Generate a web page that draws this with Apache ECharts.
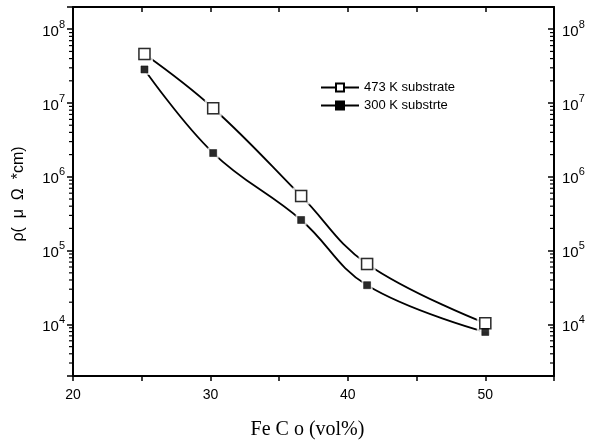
<!DOCTYPE html>
<html>
<head>
<meta charset="utf-8">
<script src="https://cdn.jsdelivr.net/npm/echarts@6/dist/echarts.min.js"></script>
<style>
html,body{margin:0;padding:0;background:#fff;}
#chart{width:589px;height:447px;}
</style>
</head>
<body>
<div id="chart"></div>
<script>
// ---- data ----
var feCo473 = [25.2, 30.2, 36.6, 41.4, 50.0];
var rho473  = [4.6e7, 8.5e6, 5.5e5, 6.6e4, 1.04e4];
var feCo300 = [25.2, 30.2, 36.6, 41.4, 50.0];
var rho300  = [2.85e7, 2.1e6, 2.6e5, 3.4e4, 7.9e3];
var seriesNames = ['473 K substrate', '300 K substrte'];
var xMin = 20, xMax = 55, xStep = 5;
var yMin = 2000, yMax = 2e8;
var xLabelValues = [20, 30, 40, 50];
var minorMultipliers = [2, 3, 4, 5, 6, 7, 8, 9];
var minorDecades = [1e3, 1e4, 1e5, 1e6, 1e7];

function pairs(xs, ys) { return xs.map(function (x, i) { return [x, ys[i]]; }); }
var minorTicks = [];
minorDecades.forEach(function (d) {
  minorMultipliers.forEach(function (m) {
    var v = m * d;
    if (v > yMin && v < yMax) minorTicks.push([xMin, v]);
  });
});

var FONT = 'Liberation Sans, Arial, sans-serif';
function powLabel(v) {
  var e = Math.log10(v);
  if (Math.abs(e - Math.round(e)) > 1e-6) return '';
  return '{b|10}{s|' + Math.round(e) + '}';
}
var rich = {
  b: { fontSize: 15, lineHeight: 20, verticalAlign: 'bottom', color: '#000', fontFamily: FONT },
  s: { fontSize: 11, lineHeight: 11, verticalAlign: 'top', color: '#000', fontFamily: FONT }
};
var axisLine = { show: true, onZero: false, lineStyle: { color: '#000', width: 2 } };

var chart = echarts.init(document.getElementById('chart'), null, { renderer: 'canvas' });
chart.setOption({
  animation: false,
  backgroundColor: '#fff',
  grid: { left: 73, right: 35, top: 7, bottom: 71, containLabel: false },
  legend: {
    data: seriesNames,
    orient: 'vertical',
    left: 315, top: 76,
    itemWidth: 38, itemHeight: 10, itemGap: 5,
    textStyle: { fontSize: 13, fontFamily: FONT, color: '#000' }
  },
  xAxis: [{
    type: 'value', min: xMin, max: xMax, interval: xStep, position: 'bottom',
    axisLine: axisLine,
    axisTick: { show: true, inside: false, length: 5, lineStyle: { color: '#000', width: 1.5 } },
    axisLabel: {
      margin: 12, fontSize: 14, fontFamily: FONT, color: '#000',
      formatter: function (v) { return xLabelValues.indexOf(v) >= 0 ? String(v) : ''; }
    },
    splitLine: { show: false },
    name: 'Fe C o (vol%)', nameLocation: 'middle', nameGap: 44,
    nameTextStyle: { fontSize: 20, fontFamily: 'Liberation Serif, Times New Roman, serif', color: '#000', padding: [0, 12, 0, 0] }
  }, {
    type: 'value', min: xMin, max: xMax, interval: xStep, position: 'top',
    axisLine: axisLine,
    axisTick: { show: true, inside: true, length: 5, lineStyle: { color: '#000', width: 1.5 } },
    axisLabel: { show: false }, splitLine: { show: false }
  }],
  yAxis: [{
    type: 'log', logBase: 10, min: yMin, max: yMax, position: 'left',
    axisLine: axisLine,
    axisTick: { show: true, inside: false, length: 6, lineStyle: { color: '#000', width: 1.5 } },
    axisLabel: { margin: 8, formatter: powLabel, rich: rich },
    splitLine: { show: false },
    name: 'ρ(  μ  Ω  *cm)', nameLocation: 'middle', nameGap: 46, nameRotate: 90,
    nameTextStyle: { fontSize: 16, fontFamily: FONT, color: '#000', padding: [0, 5, 0, 0] }
  }, {
    type: 'log', logBase: 10, min: yMin, max: yMax, position: 'right',
    axisLine: axisLine,
    axisTick: { show: true, inside: true, length: 6, lineStyle: { color: '#000', width: 1.5 } },
    axisLabel: { margin: 8, formatter: powLabel, rich: rich },
    splitLine: { show: false }
  }],
  series: [{
    name: seriesNames[0], type: 'line', smooth: 0.4,
    data: pairs(feCo473, rho473),
    symbol: 'rect', symbolSize: 11,
    lineStyle: { color: '#000', width: 1.8 },
    itemStyle: { color: '#fff', borderColor: '#000', borderWidth: 1.5 },
    z: 2
  }, {
    name: seriesNames[1], type: 'line', smooth: 0.4,
    data: pairs(feCo300, rho300),
    symbol: 'rect', symbolSize: 7,
    lineStyle: { color: '#000', width: 1.8 },
    itemStyle: { color: '#000', borderColor: '#000', borderWidth: 0.5 },
    z: 2
  }, {
    name: 'halo473', type: 'scatter', data: pairs(feCo473, rho473),
    symbol: 'rect', symbolSize: 17, itemStyle: { color: '#fff' }, silent: true, z: 3
  }, {
    name: 'halo300', type: 'scatter', data: pairs(feCo300, rho300),
    symbol: 'rect', symbolSize: 11, itemStyle: { color: '#fff' }, silent: true, z: 3
  }, {
    name: 'mk473', type: 'scatter', data: pairs(feCo473, rho473),
    symbol: 'rect', symbolSize: 11,
    itemStyle: { color: '#fff', borderColor: '#000', borderWidth: 1.5 }, silent: true, z: 4
  }, {
    name: 'mk300', type: 'scatter', data: pairs(feCo300, rho300),
    symbol: 'rect', symbolSize: 7,
    itemStyle: { color: '#000', borderColor: '#000', borderWidth: 0.5 }, silent: true, z: 5
  }, {
    name: 'minorTicks', type: 'custom', data: minorTicks, silent: true, clip: false, z: 6,
    renderItem: function (params, api) {
      var v = api.value(1);
      var a = api.coord([xMin, v]);
      var b = api.coord([xMax, v]);
      return {
        type: 'group',
        children: [
          { type: 'line', shape: { x1: a[0] - 4, y1: a[1], x2: a[0], y2: a[1] }, style: { stroke: '#000', lineWidth: 1.2 } },
          { type: 'line', shape: { x1: b[0] - 4, y1: b[1], x2: b[0], y2: b[1] }, style: { stroke: '#000', lineWidth: 1.2 } }
        ]
      };
    }
  }]
});
</script>
</body>
</html>
